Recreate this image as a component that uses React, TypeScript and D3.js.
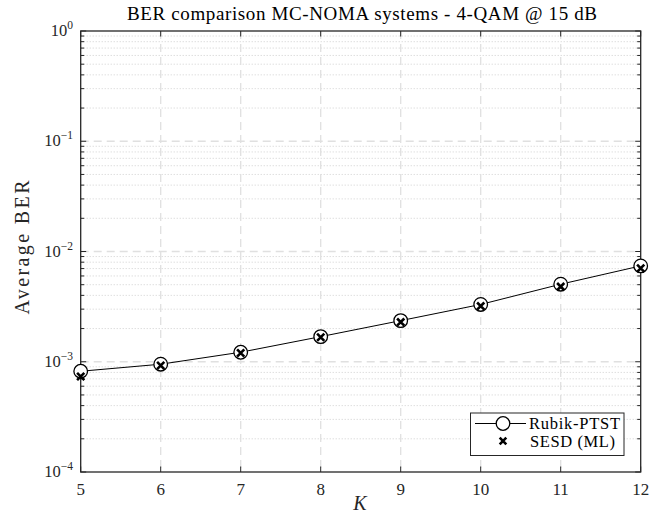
import React from "react";
import * as d3 from "d3";

const K = [5, 6, 7, 8, 9, 10, 11, 12];
const rubikPTST = [8.2e-4, 9.5e-4, 1.22e-3, 1.69e-3, 2.36e-3, 3.31e-3, 5.05e-3, 7.4e-3];
const sesdML = [7.35e-4, 9.25e-4, 1.2e-3, 1.67e-3, 2.29e-3, 3.2e-3, 4.8e-3, 7.05e-3];
const yTickExps = [0, -1, -2, -3, -4];
const xTicks = [5, 6, 7, 8, 9, 10, 11, 12];
const seriesNames = ["Rubik-PTST", "SESD (ML)"];
const title = "BER comparison MC-NOMA systems - 4-QAM @ 15 dB";

const W = 662;
const H = 523;
const L = 80.7;
const R = 640.7;
const T = 31;
const B = 472;
const FONT = "Liberation Serif";

export default function App() {
  const x = d3.scaleLinear().domain([5, 12]).range([L, R]);
  const y = d3.scaleLog().domain([1e-4, 1]).range([B, T]);

  const minor: number[] = [];
  for (let e = -4; e < 0; e++) {
    for (let m = 2; m <= 9; m++) minor.push(m * Math.pow(10, e));
  }

  const line = d3
    .line<number>()
    .x((_, i) => x(K[i]))
    .y((d) => y(d));

  const axisColor = "#262626";

  const Cross = ({ cx, cy, s = 3.6 }: { cx: number; cy: number; s?: number }) => (
    <path
      d={`M${cx - s},${cy - s}L${cx + s},${cy + s}M${cx - s},${cy + s}L${cx + s},${cy - s}`}
      stroke="#000"
      strokeWidth={2.6}
      fill="none"
    />
  );

  return (
    <svg
      width={W}
      height={H}
      style={{ position: "absolute", left: 0, top: 0, background: "#fff", fontFamily: FONT }}
    >
      <rect x={0} y={0} width={W} height={H} fill="#fff" />
      {/* minor grid */}
      {minor.map((v, i) => (
        <line
          key={"mg" + i}
          x1={L}
          x2={R}
          y1={y(v)}
          y2={y(v)}
          stroke="#c4c4c4"
          strokeWidth={0.8}
          strokeDasharray="1 2"
        />
      ))}
      {/* major grid */}
      {yTickExps.slice(1, 4).map((e) => (
        <line
          key={"My" + e}
          x1={L}
          x2={R}
          y1={y(Math.pow(10, e))}
          y2={y(Math.pow(10, e))}
          stroke="#e0e0e0"
          strokeWidth={1.3}
          strokeDasharray="8 5"
        />
      ))}
      {xTicks.slice(1, -1).map((k) => (
        <line
          key={"Mx" + k}
          x1={x(k)}
          x2={x(k)}
          y1={T}
          y2={B}
          stroke="#e0e0e0"
          strokeWidth={1.3}
          strokeDasharray="8 5"
        />
      ))}
      {/* ticks */}
      {xTicks.map((k) => (
        <g key={"xt" + k}>
          <line x1={x(k)} x2={x(k)} y1={B} y2={B - 5.5} stroke={axisColor} strokeWidth={1} />
          <line x1={x(k)} x2={x(k)} y1={T} y2={T + 5.5} stroke={axisColor} strokeWidth={1} />
          <text
            x={x(k)}
            y={B + 23}
            textAnchor="middle"
            fontSize={17}
            fontFamily={FONT}
            fill="#262626"
          >
            {k}
          </text>
        </g>
      ))}
      {yTickExps.map((e) => (
        <g key={"yt" + e}>
          <line x1={L} x2={L + 5.5} y1={y(Math.pow(10, e))} y2={y(Math.pow(10, e))} stroke={axisColor} strokeWidth={1} />
          <line x1={R} x2={R - 5.5} y1={y(Math.pow(10, e))} y2={y(Math.pow(10, e))} stroke={axisColor} strokeWidth={1} />
          <text x={73} y={y(Math.pow(10, e)) + 5} textAnchor="end" fill="#262626" fontFamily={FONT}>
            <tspan fontSize={16.5}>10</tspan>
            <tspan fontSize={11.5} dy={-7}>
              {e === 0 ? "0" : "\u2212" + Math.abs(e)}
            </tspan>
          </text>
        </g>
      ))}
      {minor.map((v, i) => (
        <g key={"mt" + i}>
          <line x1={L} x2={L + 3.5} y1={y(v)} y2={y(v)} stroke={axisColor} strokeWidth={1} />
          <line x1={R} x2={R - 3.5} y1={y(v)} y2={y(v)} stroke={axisColor} strokeWidth={1} />
        </g>
      ))}
      {/* axes box */}
      <rect x={L} y={T} width={R - L} height={B - T} fill="none" stroke={axisColor} strokeWidth={1.3} />

      {/* data */}
      <path d={line(rubikPTST) || ""} fill="none" stroke="#000" strokeWidth={1} />
      {rubikPTST.map((v, i) => (
        <circle key={"c" + i} cx={x(K[i])} cy={y(v)} r={6.8} fill="#fff" stroke="#000" strokeWidth={1.3} />
      ))}
      {sesdML.map((v, i) => (
        <Cross key={"x" + i} cx={x(K[i])} cy={y(v)} />
      ))}

      {/* legend */}
      <rect x={470.5} y={413} width={153.5} height={42.5} fill="#fff" stroke={axisColor} strokeWidth={1} />
      <line x1={475} x2={526} y1={423.5} y2={423.5} stroke="#000" strokeWidth={1} />
      <circle cx={503} cy={423.5} r={6.8} fill="#fff" stroke="#000" strokeWidth={1.3} />
      <text x={529} y={429} fontSize={16.5} fill="#000" fontFamily={FONT} textLength={91} lengthAdjust="spacing">
        {seriesNames[0]}
      </text>
      <Cross cx={503} cy={441} s={3.3} />
      <text x={530} y={446.5} fontSize={16.5} fill="#000" fontFamily={FONT} textLength={85} lengthAdjust="spacing">
        {seriesNames[1]}
      </text>

      {/* title & labels */}
      <text x={362} y={20} textAnchor="middle" fontSize={19} fill="#000" fontFamily={FONT} textLength={470} lengthAdjust="spacing">
        {title}
      </text>
      <text x={360} y={510} textAnchor="middle" fontSize={20} fontStyle="italic" fill="#262626" fontFamily={FONT}>
        K
      </text>
      <text
        transform={`translate(29,${(T + B) / 2 - 4}) rotate(-90)`}
        textAnchor="middle"
        fontSize={20}
        fill="#262626"
        fontFamily={FONT}
        textLength={134}
        lengthAdjust="spacing"
      >
        Average BER
      </text>
    </svg>
  );
}
